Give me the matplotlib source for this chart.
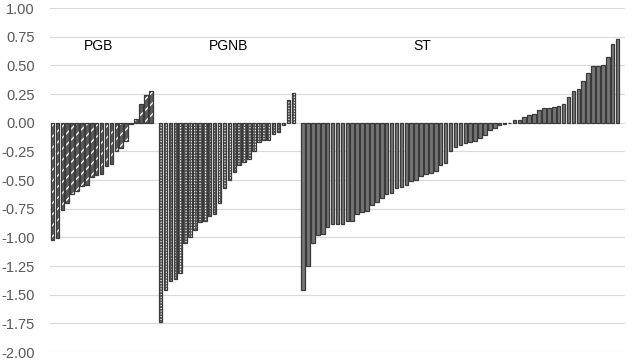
import matplotlib.pyplot as plt
import numpy as np

plt.rcParams['font.family'] = ['Liberation Sans', 'DejaVu Sans']

# valores
pgb = [-1.02, -1.01, -0.76, -0.70, -0.62, -0.60, -0.55, -0.54, -0.47, -0.46, -0.45,
       -0.38, -0.36, -0.25, -0.22, -0.16, -0.01, 0.03, 0.16, 0.24, 0.28]
pgnb = [-1.74, -1.46, -1.38, -1.36, -1.31, -1.05, -1.00, -0.94, -0.87, -0.86, -0.81,
        -0.80, -0.70, -0.57, -0.50, -0.43, -0.37, -0.34, -0.32, -0.25, -0.17, -0.15,
        -0.15, -0.10, -0.08, -0.02, 0.195, 0.26]
st = [-1.46, -1.25, -1.05, -0.98, -0.97, -0.91, -0.88, -0.88, -0.88, -0.86, -0.86,
      -0.80, -0.78, -0.77, -0.72, -0.69, -0.66, -0.625, -0.615, -0.57, -0.56, -0.545,
      -0.51, -0.50, -0.465, -0.45, -0.435, -0.42, -0.37, -0.355, -0.25, -0.21, -0.195,
      -0.18, -0.17, -0.16, -0.135, -0.11, -0.065, -0.045, -0.02, -0.01, 0.0,
      0.023, 0.023, 0.052, 0.067, 0.078, 0.11, 0.13, 0.13, 0.14, 0.148, 0.16, 0.22,
      0.28, 0.29, 0.36, 0.43, 0.49, 0.49, 0.50, 0.57, 0.69, 0.73]
group_names = ['PGB', 'PGNB', 'ST']
yticks = [1.0, 0.75, 0.5, 0.25, 0.0, -0.25, -0.5, -0.75, -1.0, -1.25, -1.5, -1.75, -2.0]

# posições das categorias, com uma categoria vazia entre os grupos
x_pgb = np.arange(len(pgb))
x_pgnb = x_pgb[-1] + 2 + np.arange(len(pgnb))
x_st = x_pgnb[-1] + 2 + np.arange(len(st))

fig = plt.figure(figsize=(6.33, 3.6), dpi=100)
ax = fig.add_axes([50 / 633, 8 / 360, 575 / 633, 344 / 360])

w = 0.72
edge = '#3a3a3a'

# PGB: diagonais brancas sobre cinza
plt.rcParams['hatch.linewidth'] = 1.0
ax.bar(x_pgb, pgb, width=w, color='#5a5a5a', edgecolor='white', hatch='///', linewidth=0, zorder=2)
ax.bar(x_pgb, pgb, width=w, color='none', edgecolor=edge, linewidth=0.9, zorder=3)

# PGNB: quadriculado fino
plt.rcParams['hatch.linewidth'] = 1.0
ax.bar(x_pgnb, pgnb, width=w, color='white', edgecolor='#555555', hatch='++++++', linewidth=0, zorder=2)
ax.bar(x_pgnb, pgnb, width=w, color='none', edgecolor=edge, linewidth=0.9, zorder=3)

# ST: cinza sólido
ax.bar(x_st, st, width=w, color='#767676', edgecolor=edge, linewidth=0.9, zorder=2)

# rótulos dos grupos
for name, xs in zip(group_names, [9.3, 35.8, 75.2]):
    ax.text(xs, 0.67, name, ha='center', va='center', fontsize=10, color='black')

ax.set_xlim(-0.5, 116.5)
ax.set_ylim(-2.0, 1.0)
ax.set_yticks(yticks)
ax.set_yticklabels(['%.2f' % v for v in yticks], fontsize=10.5, color='#595959')
ax.tick_params(axis='y', length=0, pad=11)
ax.set_xticks([])
ax.grid(axis='y', color='#d9d9d9', linewidth=0.8, zorder=0)
ax.set_axisbelow(True)
for s in ax.spines.values():
    s.set_visible(False)

fig.savefig('out.png', dpi=100)
